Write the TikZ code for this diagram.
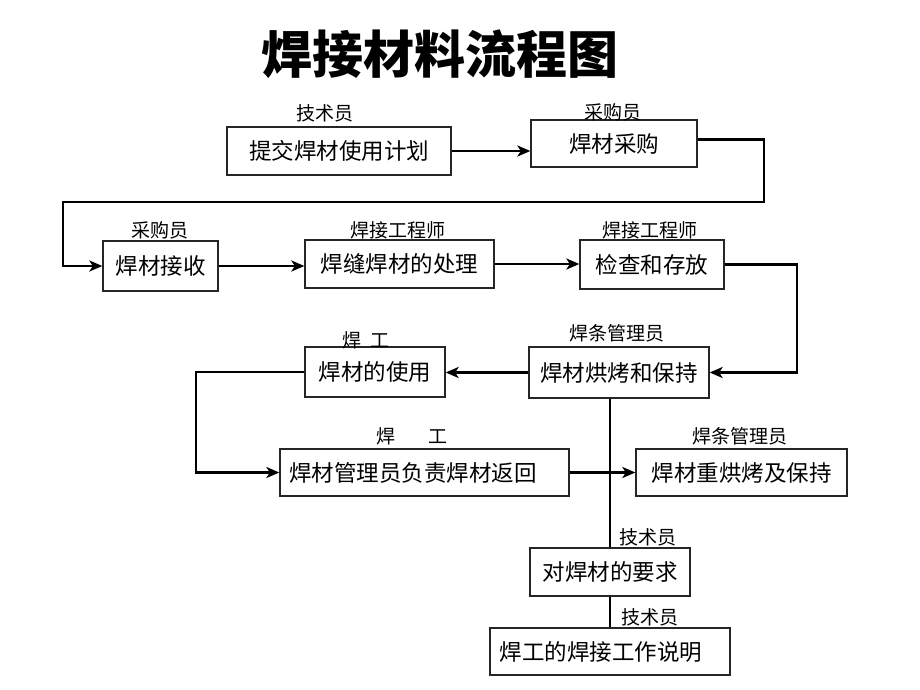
\documentclass[tikz,border=0pt]{standalone}
\usepackage{fontspec}
\setmainfont{Noto Sans CJK SC}
\usetikzlibrary{arrows.meta}
\begin{document}
\begin{tikzpicture}[x=1pt,y=-1pt,
  box/.style={draw=black!85,line width=1.3pt,inner sep=0pt,font=\fontsize{22.5}{26}\selectfont},
  lab/.style={inner sep=0pt,font=\fontsize{19}{22}\selectfont},
  conn/.style={line width=2.2pt},
  arr/.style={conn,-{Stealth[length=13pt,width=11pt,inset=3.5pt]}}]
\useasboundingbox[fill=white] (0,0) rectangle (920,690);
\node[inner sep=0pt,font=\fontsize{51}{55}\selectfont\bfseries] (title) at (440,54) {焊接材料流程图};
% boxes
\node[box,minimum width=224,minimum height=48] (b1) at (339,151) {提交焊材使用计划};
\node[box,minimum width=166,minimum height=47] (b2) at (614,143.5) {焊材采购};
\node[box,minimum width=115,minimum height=50] (b3) at (160.5,266) {焊材接收};
\node[box,minimum width=189,minimum height=48] (b4) at (399.5,264) {焊缝焊材的处理};
\node[box,minimum width=144,minimum height=49] (b5) at (652,264.5) {检查和存放};
\node[box,minimum width=180,minimum height=51] (b6) at (619,372.5) {焊材烘烤和保持};
\node[box,minimum width=140,minimum height=50] (b7) at (375,372) {焊材的使用};
\node[box,minimum width=289,minimum height=47] (b8) at (424.5,472.5) {\hspace*{-23pt}焊材管理员负责焊材返回};
\node[box,minimum width=211,minimum height=47] (b9) at (741.5,472.5) {焊材重烘烤及保持};
\node[box,minimum width=160,minimum height=48] (b10) at (610,572) {对焊材的要求};
\node[box,minimum width=240,minimum height=47] (b11) at (610,651.5) {\hspace*{-18pt}焊工的焊接工作说明};
% labels
\node[lab] (l1) at (325,113) {技术员};
\node[lab] (l2) at (613,112) {采购员};
\node[lab] (l3) at (160,230) {采购员};
\node[lab] (l4) at (398,230) {焊接工程师};
\node[lab] (l5) at (650,230) {焊接工程师};
\node[lab] (l6) at (617,333) {焊条管理员};
\node[lab] (l7) at (366,340) {焊\hspace{10pt}工};
\node[lab] (l8) at (412,436) {焊\hspace{34pt}工};
\node[lab] (l9) at (740,436) {焊条管理员};
\node[lab] (l10) at (648,537) {技术员};
\node[lab] (l11) at (650,617) {技术员};
% connector coordinates
\coordinate (c1) at (764,202);
\coordinate (c2) at (63,202);
\coordinate (c4) at (797,320);
\coordinate (c3) at (196,420);
% connectors
\draw[arr] (b1.east) -- (b2.west |- b1.east);
\draw[arr] ([yshift=4pt]b2.east) -| (c1) -- (c2) |- (b3.west);
\draw[arr] (b3.east) -- (b4.west |- b3.east);
\draw[arr] (b4.east) -- (b5.west |- b4.east);
\draw[arr] (b5.east) -| (c4) |- (b6.east);
\draw[arr] (b6.west) -- (b7.east |- b6.west);
\draw[arr] (b7.west) -| (c3) |- (b8.west);
\draw[arr] (b8.east) -- (b9.west);
\draw[conn] (b10.north) -- (b10.north |- b6.south);
\draw[line width=1.1pt] (b10.south) -- (b11.north);
\end{tikzpicture}
\end{document}
